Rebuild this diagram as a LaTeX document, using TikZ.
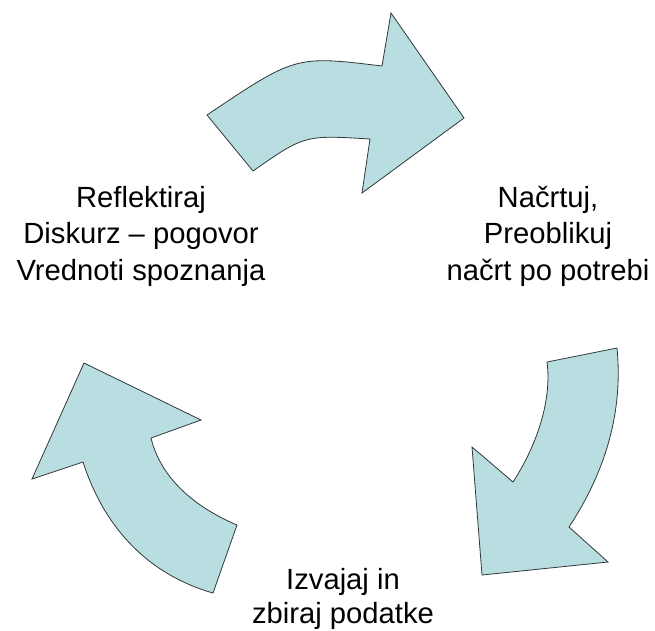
\documentclass[tikz,border=0pt]{standalone}
\usepackage{fontspec}
\setmainfont{Liberation Sans}
\definecolor{arrowfill}{RGB}{184,222,226}
\definecolor{arrowline}{RGB}{50,55,55}
\begin{document}
\begin{tikzpicture}[x=1pt,y=-1pt,
  blockarrow/.style={fill=arrowfill,draw=arrowline,line width=0.8pt,line join=miter},
  label/.style={align=center,font=\fontsize{29.2}{36.5}\selectfont,inner sep=0pt,text=black}]
\useasboundingbox (0,0) rectangle (655,630);
% top arrow
\draw[blockarrow] (207,115) .. controls (295.5,55.5) .. (382,66) -- (391,13) -- (464,118) -- (362,193) -- (370,139) .. controls (304.5,135) .. (253,171) -- cycle;
% right arrow
\draw[blockarrow] (547,362) -- (617,348) .. controls (624,420) and (600,480) .. (569,527) -- (608,562) -- (482,575) -- (472,447) -- (513,482) .. controls (537,445) and (552,400) .. (547,362) -- cycle;
% left arrow
\draw[blockarrow] (84,363) -- (201,420) -- (151,438) .. controls (160,475) and (190,505) .. (237,525) -- (213,593) .. controls (150,575) and (105,530) .. (83,462) -- (32,479) -- cycle;
\node[label] (reflect) at (141,236) {Reflektiraj\\Diskurz – pogovor\\Vrednoti spoznanja};
\node[label] (plan) at (548,236) {Načrtuj,\\Preoblikuj\\načrt po potrebi};
\node[label,font=\fontsize{29.2}{34}\selectfont] (act) at (343,598.5) {Izvajaj in\\zbiraj podatke};
\end{tikzpicture}
\end{document}
